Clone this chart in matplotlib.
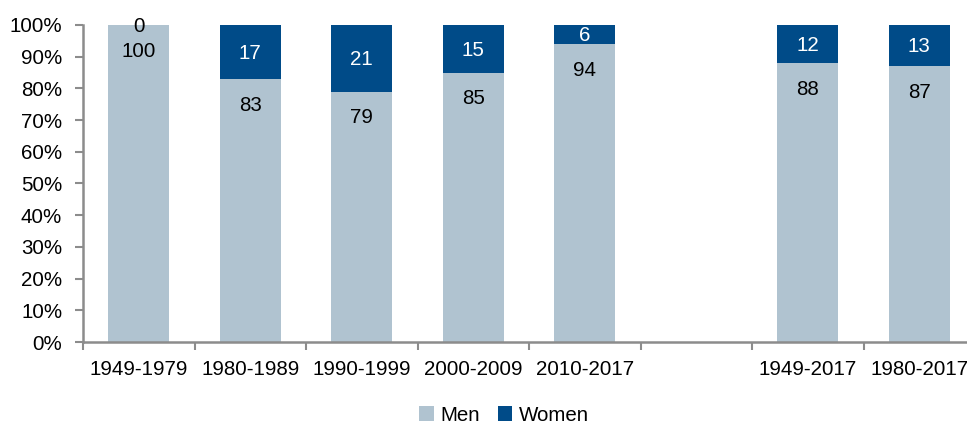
import numpy as np
import matplotlib.pyplot as plt

plt.rcParams["font.family"] = ["Liberation Sans", "DejaVu Sans"]

periods = ["1949-1979", "1980-1989", "1990-1999", "2000-2009", "2010-2017", "", "1949-2017", "1980-2017"]
men = [100, 83, 79, 85, 94, np.nan, 88, 87]
women = [0, 17, 21, 15, 6, np.nan, 12, 13]

MEN_C = "#B0C3D0"
WOMEN_C = "#004B88"
AXIS_C = "#8C8C8C"
FS = 14.8

fig = plt.figure(figsize=(9.67, 4.23), dpi=100)
ax = fig.add_axes([83 / 967, 81 / 423, 892 / 967, 317 / 423])

x = np.arange(len(periods))
men_v = np.nan_to_num(men)
women_v = np.nan_to_num(women)
ax.bar(x, men_v, width=0.55, color=MEN_C, label="Men")
ax.bar(x, women_v, width=0.55, bottom=men_v, color=WOMEN_C, label="Women")

for xi, m, w in zip(x, men, women):
    if np.isnan(m):
        continue
    # men label sits near the top of its segment, women label centred
    ax.annotate(f"{m:.0f}", (xi, m), xytext=(0, -19), textcoords="offset points",
                ha="center", va="center", fontsize=FS, color="black")
    ax.annotate(f"{w:.0f}", (xi, m + w / 2), xytext=(0, -1), textcoords="offset points",
                ha="center", va="center", fontsize=FS,
                color="white" if w > 0 else "black")

ax.set_xlim(-0.5, len(periods) - 0.5)
ax.set_ylim(0, 100)
ax.set_yticks(np.arange(0, 101, 10))
ax.set_yticklabels([f"{v}%" for v in range(0, 101, 10)], fontsize=FS)

ax.set_xticks(np.arange(-0.5, len(periods), 1.0))
ax.set_xticklabels([])
ax.set_xticks(x, minor=True)
ax.set_xticklabels(periods, minor=True, fontsize=FS)
ax.tick_params(axis="x", which="major", length=6, width=1.5, color=AXIS_C, direction="out")
ax.tick_params(axis="x", which="minor", length=0, pad=13)
ax.tick_params(axis="y", length=6, width=1.5, color=AXIS_C, pad=9)

for side in ["top", "right"]:
    ax.spines[side].set_visible(False)
for side in ["left", "bottom"]:
    ax.spines[side].set_color(AXIS_C)
    ax.spines[side].set_linewidth(1.8)

fig.legend(loc="center", bbox_to_anchor=(504 / 967, 1 - 415 / 423), ncol=2, frameon=False,
           fontsize=FS, handlelength=0.7, handleheight=0.7, handletextpad=0.3,
           columnspacing=0.9)

fig.savefig("out.png", dpi=100)
